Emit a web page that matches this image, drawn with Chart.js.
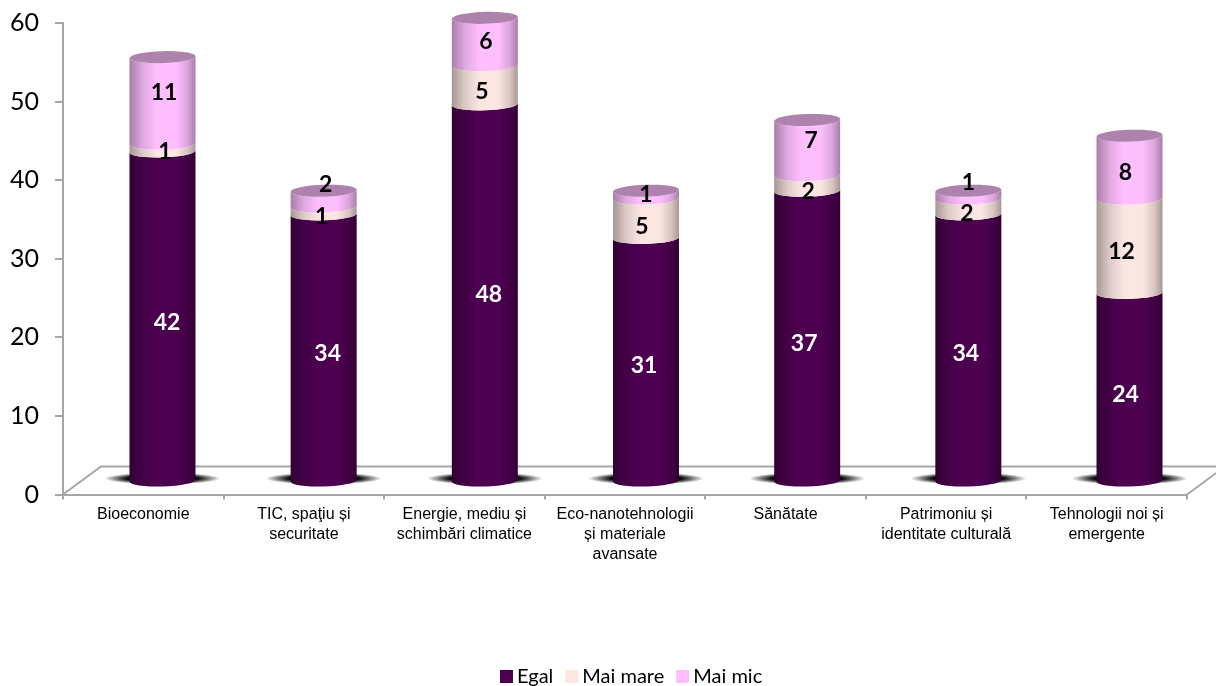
<!DOCTYPE html>
<html lang="ro">
<head>
<meta charset="utf-8">
<title>Cilindri</title>
<script src="https://cdn.jsdelivr.net/npm/chart.js@4/dist/chart.umd.js"></script>
<style>
    html, body { margin: 0; background: #fff; }
    canvas { display: block; }
</style>
</head>
<body>
<canvas id="cylChart" width="1216" height="686"></canvas>
<script>
const categories = [
    ['Bioeconomie'],
    ['TIC, spaţiu și', 'securitate'],
    ['Energie, mediu și', 'schimbări climatice'],
    ['Eco-nanotehnologii', 'și materiale', 'avansate'],
    ['Sănătate'],
    ['Patrimoniu și', 'identitate culturală'],
    ['Tehnologii noi și', 'emergente']
];
const egal = [42, 34, 48, 31, 37, 34, 24];
const maiMare = [1, 1, 5, 5, 2, 2, 12];
const maiMic = [11, 2, 6, 1, 7, 1, 8];
const yTicks = [0, 10, 20, 30, 40, 50, 60];

// label nudges, excel had them placed by hand
const labelDx = [
    [4.5, 4, 4, -2, -3, -2.5, -4],
    [2.5, -2, -3, -4, 1, -1.5, -8],
    [1.5, 2, 1, 0, 4, 0, -4]
];
const labelDy = [
    [6.5, 6.5, 2.5, 6.5, 7.5, 6.5, 7.5],
    [4.5, 6.5, 6.5, 8, 8.5, 7.5, 5.5],
    [-7.5, -14.5, 0.5, -0.5, -6.5, -12.5, 5.5]
];

const AXIS_GRAY = '#a6a6a6';
const DEPTH_X = 19.2, DEPTH_STEP = 0.6, DEPTH_Y = 13;
const CAP_RY = 6, TILT = -0.03;

function shade(hex, f) {
    const n = parseInt(hex.slice(1), 16);
    const c = [n >> 16, (n >> 8) & 255, n & 255].map(v => Math.round(v * f));
    return `rgb(${c[0]},${c[1]},${c[2]})`;
}

function sideGradient(ctx, r, color) {
    const g = ctx.createLinearGradient(-r, 0, r, 0);
    g.addColorStop(0, shade(color, 0.66));
    g.addColorStop(0.2, shade(color, 0.88));
    g.addColorStop(0.42, shade(color, 1));
    g.addColorStop(0.7, shade(color, 1));
    g.addColorStop(0.88, shade(color, 0.86));
    g.addColorStop(1, shade(color, 0.66));
    return g;
}

const cylinders = {
    id: 'cylinders',
    beforeDatasetDraw() {
        return false; // bars are painted by this plugin
    },
    beforeDatasetsDraw(chart) {
        const ctx = chart.ctx;
        const { left, right, bottom } = chart.chartArea;

        // floor of the 3d plot
        ctx.save();
        ctx.strokeStyle = AXIS_GRAY;
        ctx.lineWidth = 2;
        ctx.beginPath();
        ctx.moveTo(left, bottom);
        ctx.lineTo(left + 38, bottom - 28);
        ctx.lineTo(right + 38, bottom - 28);
        ctx.lineTo(right, bottom);
        ctx.stroke();
        ctx.restore();

        const first = chart.getDatasetMeta(0).data;

        // shadows under the bars
        first.forEach((el, i) => {
            const cx = el.x + DEPTH_X + DEPTH_STEP * i;
            ctx.save();
            ctx.translate(cx, el.base - DEPTH_Y - 2);
            ctx.scale(58, 6);
            const g = ctx.createRadialGradient(0, 0, 0, 0, 0, 1);
            g.addColorStop(0, 'rgba(0,0,0,1)');
            g.addColorStop(0.62, 'rgba(0,0,0,0.95)');
            g.addColorStop(0.8, 'rgba(0,0,0,0.5)');
            g.addColorStop(1, 'rgba(0,0,0,0)');
            ctx.fillStyle = g;
            ctx.beginPath();
            ctx.arc(0, 0, 1, 0, Math.PI * 2);
            ctx.fill();
            ctx.restore();
        });

        // lower segments first so each one's curved bottom shows
        chart.data.datasets.forEach((ds, d) => {
            chart.getDatasetMeta(d).data.forEach((el, i) => {
                const r = el.width / 2;
                const top = el.y - DEPTH_Y;
                const bot = el.base - DEPTH_Y;
                const cx = el.x + DEPTH_X + DEPTH_STEP * i;
                ctx.save();
                ctx.transform(1, TILT, 0, 1, cx, 0);
                ctx.fillStyle = sideGradient(ctx, r, ds.backgroundColor);
                ctx.beginPath();
                ctx.moveTo(-r, top);
                ctx.lineTo(-r, bot);
                ctx.ellipse(0, bot, r, CAP_RY, 0, Math.PI, 0, true);
                ctx.lineTo(r, top);
                ctx.ellipse(0, top, r, CAP_RY, 0, 0, Math.PI, false);
                ctx.closePath();
                ctx.fill();
                if (d === chart.data.datasets.length - 1) {
                    ctx.fillStyle = shade(ds.backgroundColor, 0.68);
                    ctx.beginPath();
                    ctx.ellipse(0, top, r, CAP_RY, 0, 0, Math.PI * 2);
                    ctx.fill();
                }
                ctx.restore();
            });
        });
    },
    afterDatasetsDraw(chart) {
        const ctx = chart.ctx;
        ctx.save();
        ctx.font = 'bold 23px Lato';
        ctx.textAlign = 'center';
        ctx.textBaseline = 'middle';
        chart.data.datasets.forEach((ds, d) => {
            ctx.fillStyle = d === 0 ? '#ffffff' : '#000000';
            chart.getDatasetMeta(d).data.forEach((el, i) => {
                const cx = el.x + DEPTH_X + DEPTH_STEP * i;
                const my = (el.y + el.base) / 2 - DEPTH_Y;
                ctx.fillText(ds.data[i], cx + labelDx[d][i], my + labelDy[d][i]);
            });
        });
        ctx.restore();
    },
    afterDraw(chart) {
        // legend by hand, the built-in one leaves too wide a gap after the box
        const ctx = chart.ctx;
        let x = 500;
        ctx.save();
        ctx.font = '20px Lato';
        ctx.textBaseline = 'middle';
        chart.data.datasets.forEach(ds => {
            ctx.fillStyle = ds.backgroundColor;
            ctx.fillRect(x, 670, 13, 13);
            ctx.fillStyle = '#000';
            ctx.fillText(ds.label, x + 17, 676.5);
            x += 17 + ctx.measureText(ds.label).width + 12;
        });
        ctx.restore();
    }
};

window.addEventListener('DOMContentLoaded', function () {
    new Chart(document.getElementById('cylChart'), {
        type: 'bar',
        data: {
            labels: categories,
            datasets: [
                { label: 'Egal', data: egal, backgroundColor: '#4d0050' },
                { label: 'Mai mare', data: maiMare, backgroundColor: '#fbe6e2' },
                { label: 'Mai mic', data: maiMic, backgroundColor: '#ffbfff' }
            ]
        },
        options: {
            responsive: false,
            animation: false,
            layout: { padding: { top: 23, right: 29, left: 0, bottom: 0 } },
            barThickness: 66,
            scales: {
                x: {
                    stacked: true,
                    afterFit: scale => { scale.height = 191.5; },
                    grid: { drawOnChartArea: false, color: AXIS_GRAY, lineWidth: 2, tickLength: 5 },
                    border: { color: AXIS_GRAY, width: 2 },
                    ticks: {
                        color: '#000',
                        maxRotation: 0,
                        autoSkip: false,
                        padding: 5,
                        font: { family: 'Liberation Sans', size: 16, lineHeight: 1.25 }
                    }
                },
                y: {
                    stacked: true,
                    min: 0,
                    max: 60,
                    afterFit: scale => {
                        scale.width = 63;
                        scale.paddingTop = 0;
                        scale.paddingBottom = 0;
                    },
                    afterBuildTicks: scale => { scale.ticks = yTicks.map(v => ({ value: v })); },
                    grid: { drawOnChartArea: false, color: AXIS_GRAY, lineWidth: 2, tickLength: 8 },
                    border: { color: AXIS_GRAY, width: 2 },
                    ticks: {
                        color: '#000',
                        padding: 16,
                        font: { family: 'Lato', size: 25 }
                    }
                }
            },
            plugins: {
                legend: { display: false },
                tooltip: { enabled: false }
            }
        },
        plugins: [cylinders]
    });
});
</script>
</body>
</html>
